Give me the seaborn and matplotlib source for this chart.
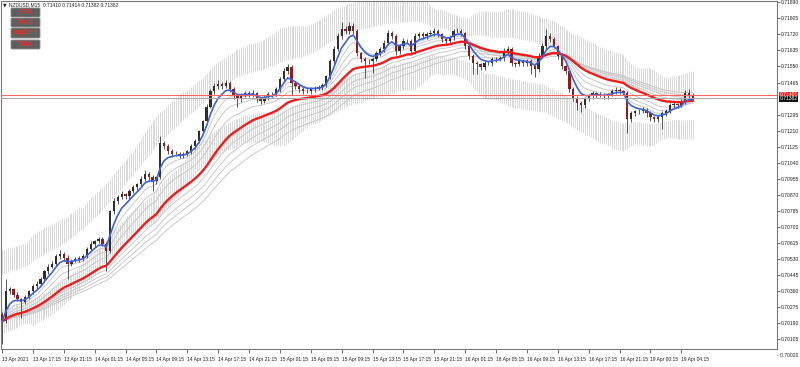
import numpy as np
import pandas as pd
import matplotlib
matplotlib.use("Agg")
import matplotlib.pyplot as plt
import seaborn as sns
from matplotlib.patches import FancyBboxPatch

# ---------------- data ----------------
symbol_header = "NZDUSD,M15  0.71410 0.71414 0.71382 0.71382"
buttons = ["FSR", "Pivot", "SupDem", "TMA"]

open0 = 0.70240
closes = [
    0.70200, 0.70358, 0.70369, 0.70342, 0.70316, 0.70305, 0.70327, 0.70358, 0.70385, 0.70396,
    0.70422, 0.70464, 0.70490, 0.70506, 0.70544, 0.70559, 0.70538, 0.70506, 0.70522, 0.70528,
    0.70533, 0.70544, 0.70581, 0.70607, 0.70623, 0.70634, 0.70612, 0.70570, 0.70782, 0.70835,
    0.70857, 0.70872, 0.70862, 0.70888, 0.70909, 0.70925, 0.70952, 0.70983, 0.70962, 0.70941,
    0.70962, 0.71142, 0.71127, 0.71100, 0.71084, 0.71089, 0.71079, 0.71084, 0.71100, 0.71127,
    0.71153, 0.71206, 0.71259, 0.71338, 0.71418, 0.71445, 0.71456, 0.71445, 0.71461, 0.71429,
    0.71392, 0.71376, 0.71397, 0.71407, 0.71402, 0.71407, 0.71376, 0.71365, 0.71387, 0.71402,
    0.71402, 0.71429, 0.71482, 0.71524, 0.71545, 0.71461, 0.71445, 0.71429, 0.71418, 0.71418,
    0.71429, 0.71434, 0.71439, 0.71450, 0.71497, 0.71577, 0.71641, 0.71710, 0.71747, 0.71736,
    0.71763, 0.71736, 0.71619, 0.71588, 0.71577, 0.71577, 0.71588, 0.71619, 0.71641, 0.71672,
    0.71725, 0.71710, 0.71630, 0.71656, 0.71683, 0.71683, 0.71630, 0.71710, 0.71720, 0.71710,
    0.71720, 0.71725, 0.71736, 0.71720, 0.71694, 0.71683, 0.71704, 0.71736, 0.71736, 0.71725,
    0.71656, 0.71604, 0.71566, 0.71561, 0.71545, 0.71566, 0.71566, 0.71588, 0.71588, 0.71593,
    0.71630, 0.71641, 0.71566, 0.71561, 0.71577, 0.71566, 0.71577, 0.71550, 0.71535, 0.71604,
    0.71656, 0.71710, 0.71694, 0.71656, 0.71604, 0.71550, 0.71524, 0.71429, 0.71381, 0.71354,
    0.71344, 0.71376, 0.71392, 0.71407, 0.71402, 0.71397, 0.71392, 0.71402, 0.71418, 0.71423,
    0.71418, 0.71407, 0.71270, 0.71301, 0.71312, 0.71312, 0.71318, 0.71301, 0.71280, 0.71270,
    0.71280, 0.71301, 0.71312, 0.71344, 0.71349, 0.71344, 0.71365, 0.71407, 0.71397, 0.71382,
]
wick_up_pips = [
    1.0, 6.5, 1.5, 1.0, 1.2, 0.8, 1.5, 1.0, 1.4, 2.0,
    1.2, 1.0, 1.6, 1.2, 1.0, 1.8, 0.8, 1.2, 1.0, 1.5,
    1.2, 1.0, 1.4, 1.6, 1.0, 1.2, 1.5, 1.0, 1.0, 1.6,
    1.2, 1.8, 1.0, 1.4, 1.2, 1.0, 1.6, 1.8, 1.0, 1.2,
    1.0, 4.0, 1.5, 1.0, 1.2, 1.5, 1.0, 1.2, 1.0, 1.4,
    1.2, 1.0, 1.0, 1.5, 1.2, 1.8, 2.0, 1.2, 1.6, 1.0,
    1.2, 1.0, 1.5, 1.2, 1.4, 1.6, 1.0, 1.2, 1.0, 1.5,
    1.2, 1.0, 1.2, 1.6, 2.0, 1.5, 1.0, 1.2, 1.0, 1.4,
    1.2, 1.0, 1.5, 1.2, 1.0, 1.4, 1.6, 2.0, 4.0, 1.8,
    2.5, 1.5, 1.2, 1.0, 1.4, 1.2, 1.0, 1.5, 1.2, 1.6,
    2.0, 1.2, 1.0, 1.4, 1.6, 1.2, 1.0, 2.0, 1.4, 1.2,
    1.5, 1.6, 1.8, 1.2, 1.0, 1.4, 1.2, 1.5, 1.6, 1.2,
    1.0, 1.2, 1.0, 1.4, 1.0, 1.2, 1.5, 1.0, 1.2, 1.4,
    1.6, 2.0, 1.2, 1.0, 1.2, 1.4, 1.0, 1.2, 1.0, 1.5,
    1.8, 4.0, 1.6, 1.2, 1.0, 1.2, 1.0, 1.4, 1.2, 1.0,
    1.2, 1.4, 1.0, 1.2, 1.0, 1.4, 1.2, 1.0, 1.5, 1.6,
    1.2, 1.0, 1.2, 1.4, 1.0, 1.2, 1.5, 1.0, 1.2, 1.0,
    1.4, 1.2, 1.5, 1.2, 1.6, 1.0, 1.4, 2.0, 2.2, 1.5,
]
wick_dn_pips = [
    12.0, 1.0, 1.2, 1.5, 1.0, 9.0, 1.2, 1.0, 1.4, 1.2,
    1.0, 1.5, 1.2, 1.0, 1.4, 1.2, 1.6, 8.0, 1.2, 1.0,
    1.4, 1.2, 1.0, 1.5, 1.2, 1.0, 1.4, 10.5, 1.0, 1.2,
    1.5, 1.0, 1.2, 1.4, 1.0, 1.2, 1.5, 1.0, 1.4, 5.0,
    1.2, 1.0, 1.5, 1.2, 1.4, 1.0, 1.6, 1.2, 1.0, 1.4,
    1.2, 1.0, 1.5, 1.2, 1.0, 1.4, 1.2, 1.6, 1.0, 1.2,
    1.5, 4.0, 1.2, 1.0, 1.4, 1.2, 1.6, 1.5, 1.0, 1.2,
    1.4, 1.0, 1.2, 1.0, 1.5, 6.0, 1.5, 1.2, 1.4, 1.0,
    1.2, 1.5, 1.0, 1.2, 1.0, 1.4, 1.2, 1.0, 1.5, 1.2,
    1.4, 1.6, 1.2, 1.4, 9.0, 1.2, 6.0, 1.0, 1.4, 1.2,
    1.0, 1.5, 2.0, 1.2, 1.4, 1.0, 2.0, 1.2, 1.0, 1.4,
    1.2, 1.0, 1.5, 1.2, 1.4, 1.6, 1.0, 1.2, 1.0, 1.4,
    1.5, 1.2, 5.5, 5.0, 1.2, 1.4, 1.0, 1.5, 1.2, 1.0,
    1.4, 1.2, 1.5, 1.2, 1.0, 1.4, 1.2, 4.0, 4.0, 1.2,
    1.0, 1.2, 1.4, 1.0, 1.2, 1.4, 1.5, 1.2, 1.6, 3.5,
    3.5, 1.2, 1.0, 1.4, 1.2, 1.0, 1.5, 1.2, 1.0, 1.4,
    1.2, 1.0, 7.0, 1.5, 1.2, 1.4, 1.0, 1.6, 1.8, 1.2,
    1.4, 6.0, 1.2, 1.0, 1.4, 1.2, 1.0, 1.2, 1.4, 1.0,
]
time_labels = [
    "13 Apr 2021", "13 Apr 17:15", "13 Apr 21:15", "14 Apr 01:15", "14 Apr 05:15",
    "14 Apr 09:15", "14 Apr 13:15", "14 Apr 17:15", "14 Apr 21:15", "15 Apr 01:15",
    "15 Apr 05:15", "15 Apr 09:15", "15 Apr 13:15", "15 Apr 17:15", "15 Apr 21:15",
    "16 Apr 01:15", "16 Apr 05:15", "16 Apr 09:15", "16 Apr 13:15", "16 Apr 17:15",
    "16 Apr 21:15", "19 Apr 00:15", "19 Apr 04:15",
]
price_ticks = [
    0.70105, 0.70190, 0.70275, 0.70360, 0.70445, 0.70530, 0.70615,
    0.70700, 0.70785, 0.70870, 0.70955, 0.71040, 0.71125, 0.71210, 0.71295,
    0.71465, 0.71550, 0.71635, 0.71720, 0.71805, 0.71890,
]
bottom_tick = 0.70020
bid_price = 0.71382
ask_price = 0.71401
fast_span = 5
slow_span = 25
ribbon_spans = [8, 12, 17, 30, 35, 40, 46]
tma_half = 16
band_inner, band_outer = 1.7, 4.0

FONT = ["Liberation Sans", "DejaVu Sans"]
FSX = 3.5
FSY = 3.6

# ---------------- derived OHLC ----------------
c = np.array(closes)
n = len(c)
o = np.concatenate([[open0], c[:-1]])
h = np.maximum(o, c) + np.array(wick_up_pips) * 1e-4
l = np.minimum(o, c) - np.array(wick_dn_pips) * 1e-4
idx = np.arange(n)
df = pd.DataFrame({"bar": idx, "close": c})

# TMA centred bands
tma = np.empty(n)
for i in range(n):
    j = np.arange(max(0, i - tma_half), min(n, i + tma_half + 1))
    w = tma_half + 1 - np.abs(j - i)
    tma[i] = np.sum(w * c[j]) / np.sum(w)
dev = pd.Series((c - tma) ** 2).rolling(40, min_periods=1, center=True).mean().values ** 0.5
dev = np.maximum(dev, 0.0004)

# ---------------- figure ----------------
sns.set_theme(style="white")
plt.rcParams["font.family"] = FONT

W, H = 800, 367
fig = plt.figure(figsize=(W / 100, H / 100), dpi=100)
fig.patch.set_facecolor("white")
ax = fig.add_axes([1 / W, 1 - 349 / H, 776 / W, 348 / H])
ax.set_facecolor("white")

# bands drawn as thin vertical strokes (twice per bar, like the M15 source)
bx = np.concatenate([idx, idx[:-1] + 0.5])
for sgn in (1, -1):
    a = tma + sgn * band_inner * dev
    b = tma + sgn * band_outer * dev
    a2 = np.concatenate([a, (a[:-1] + a[1:]) / 2])
    b2 = np.concatenate([b, (b[:-1] + b[1:]) / 2])
    ax.vlines(bx, a2, b2, color="#d0d0d0", linewidth=0.55, zorder=1)

# ribbon MAs
for sp in ribbon_spans:
    df[f"ema{sp}"] = df["close"].ewm(span=sp, adjust=False).mean()
    sns.lineplot(data=df, x="bar", y=f"ema{sp}", ax=ax, color="#c6c6c6",
                 linewidth=0.65, zorder=2)

# candles
up = c >= o
ax.vlines(idx, l, h, color="#3a3a3a", linewidth=0.6, zorder=3)
body = np.maximum(np.abs(c - o), 0.00003)
ax.bar(idx[up], body[up], bottom=np.minimum(o, c)[up], width=0.6,
       color="#2e2e2e", linewidth=0, zorder=4)
ax.bar(idx[~up], body[~up], bottom=np.minimum(o, c)[~up], width=0.6,
       color="#8b1e1e", linewidth=0, zorder=4)

# slow and fast EMA
df["slow"] = df["close"].ewm(span=slow_span, adjust=False).mean()
df["fast"] = df["close"].ewm(span=fast_span, adjust=False).mean()
sns.lineplot(data=df, x="bar", y="slow", ax=ax, color="#ee1c1c", linewidth=1.7, zorder=5)
sns.lineplot(data=df, x="bar", y="fast", ax=ax, color="#3f63d6", linewidth=1.2, zorder=6)

# bid / ask lines
ax.axhline(ask_price, color="#ff6464", linewidth=0.8, zorder=7)
ax.axhline(bid_price, color="#aaaaaa", linewidth=0.8, zorder=7)

# axes limits and ticks
px_per_bar = 3.86
xl = -1 / px_per_bar
ax.set_xlim(xl, xl + 776 / px_per_bar)
ytop = 0.71890 + 1.3 / 18877
ax.set_ylim(ytop - 348 / 18877, ytop)
ax.set_xlabel("")
ax.set_ylabel("")

ax.set_xticks([8 * j for j in range(len(time_labels))])
ax.set_xticklabels(time_labels, fontsize=FSX, color="#222222")
for t in ax.get_xticklabels():
    t.set_ha("left")
ax.tick_params(axis="x", direction="out", length=3, width=0.6, pad=2.5,
               colors="#555555", labelcolor="#222222", bottom=True)

ax.yaxis.tick_right()
ax.set_yticks(price_ticks)
ax.set_yticklabels([f"{p:.5f}" for p in price_ticks], fontsize=FSY)
ax.tick_params(axis="y", direction="out", length=2, width=0.6, pad=0.8,
               colors="#555555", labelcolor="#222222", right=True, left=False)
# lowest price label lies just below the plotting area
ax.text(1.0, bottom_tick, "- " + f"{bottom_tick:.5f}", transform=ax.get_yaxis_transform(),
        fontsize=FSY, color="#222222", va="center", ha="left", clip_on=False)

for s in ax.spines.values():
    s.set_color("#7a7a7a")
    s.set_linewidth(0.8)

# price boxes on the right axis
ax.text(1.003, ask_price, f"{ask_price:.5f}", transform=ax.get_yaxis_transform(),
        fontsize=FSY, color="white", va="center", ha="left", zorder=10, clip_on=False,
        bbox=dict(boxstyle="square,pad=0.1", fc="#ff1a1a", ec="none"))
ax.text(1.003, bid_price - 0.00004, f"{bid_price:.5f}", transform=ax.get_yaxis_transform(),
        fontsize=FSY, color="white", va="center", ha="left", zorder=10, clip_on=False,
        bbox=dict(boxstyle="square,pad=0.1", fc="#101010", ec="none"))

# header and buttons
fig.text(3 / W, 1 - 5 / H, "\u25bc", fontsize=3.4, color="#222222", va="center", ha="left",
         family=["DejaVu Sans"])
fig.text(9 / W, 1 - 5 / H, symbol_header, fontsize=3.5, color="#222222", va="center", ha="left")
btn_rows = [(8, 17), (18, 27), (28, 38), (40, 49)]
for name, (y0, y1) in zip(buttons, btn_rows):
    x0, x1 = 11, 40
    p = FancyBboxPatch((x0 / W, 1 - y1 / H), (x1 - x0) / W, (y1 - y0) / H,
                       boxstyle="round,pad=0,rounding_size=0.002",
                       transform=fig.transFigure, fc="#5f5f5f", ec="#8a8a8a", lw=0.6)
    fig.add_artist(p)
    fig.text((x0 + x1) / 2 / W, 1 - (y0 + y1) / 2 / H, name, fontsize=5.0,
             color="#ff2a2a", va="center", ha="center")

fig.savefig("out.png", dpi=100, facecolor="white")
